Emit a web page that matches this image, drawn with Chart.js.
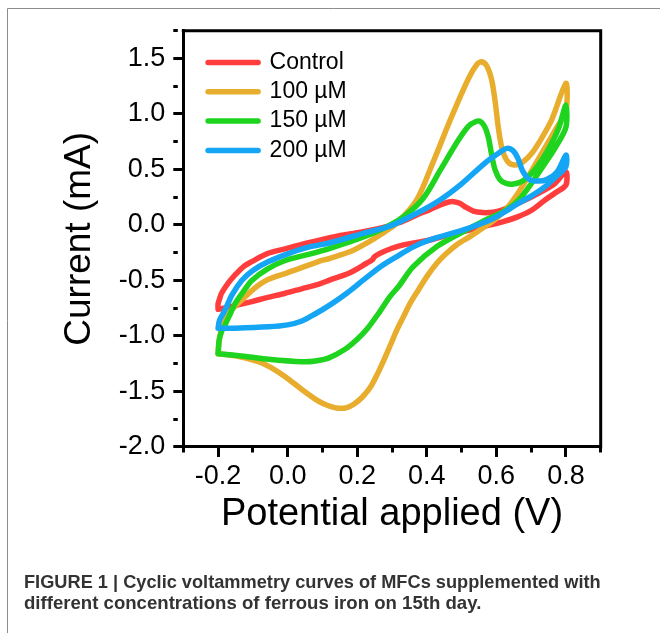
<!DOCTYPE html>
<html>
<head>
<meta charset="utf-8">
<script src="https://cdn.jsdelivr.net/npm/chart.js@4.4.1/dist/chart.umd.min.js"></script>
<style>
  html, body { margin: 0; padding: 0; background: #fff; }
  #wrap { position: relative; width: 660px; height: 633px; }
</style>
</head>
<body>
<div id="wrap"><canvas id="c" width="660" height="633"></canvas></div>
<script>
// ---------- data ----------
const seriesLabels = ['Control', '100 µM', '150 µM', '200 µM'];
const seriesColors = ['#FF3D3D', '#E8AD2D', '#1ED41E', '#14A5F5'];

// Control: forward scan then reverse scan (closed loop)
const controlV = [-0.2, -0.2, -0.195, -0.19, -0.17, -0.151, -0.125, -0.103, -0.06, -0.007, 0.06, 0.136, 0.2, 0.266, 0.32, 0.371, 0.41, 0.438, 0.46, 0.478, 0.495, 0.512, 0.534, 0.56, 0.59, 0.616, 0.663, 0.721, 0.769, 0.8,
                  0.8, 0.77, 0.74, 0.7, 0.663, 0.62, 0.582, 0.505, 0.45, 0.409, 0.333, 0.3, 0.266, 0.25, 0.243, 0.227, 0.179, 0.122, 0.088, 0.04, -0.007, -0.06, -0.103, -0.17, -0.2];
const controlI = [-0.76, -0.71, -0.66, -0.615, -0.52, -0.45, -0.37, -0.33, -0.26, -0.215, -0.16, -0.105, -0.07, -0.03, 0.02, 0.09, 0.14, 0.18, 0.205, 0.21, 0.195, 0.16, 0.125, 0.112, 0.115, 0.135, 0.195, 0.285, 0.376, 0.48,
                  0.36, 0.29, 0.225, 0.13, 0.075, 0.03, 0.0, -0.06, -0.1, -0.135, -0.18, -0.21, -0.255, -0.285, -0.315, -0.345, -0.43, -0.495, -0.535, -0.575, -0.615, -0.655, -0.69, -0.74, -0.76];

// 100 µM
const fe100V = [-0.2, -0.196, -0.186, -0.165, -0.132, -0.095, -0.055, 0.0, 0.088, 0.122, 0.18, 0.237, 0.28, 0.314, 0.371, 0.42, 0.472, 0.52, 0.545, 0.558, 0.573, 0.587, 0.597, 0.606, 0.617, 0.633, 0.654, 0.677, 0.702, 0.73, 0.759, 0.8,
                0.8, 0.77, 0.735, 0.7, 0.665, 0.63, 0.6, 0.56, 0.524, 0.49, 0.457, 0.43, 0.4, 0.375, 0.352, 0.333, 0.314, 0.297, 0.279, 0.26, 0.24, 0.215, 0.19, 0.17, 0.155, 0.135, 0.11, 0.085, 0.04, -0.007, -0.05, -0.084, -0.14, -0.2];
const fe100I = [-1.16, -1.02, -0.9, -0.78, -0.676, -0.57, -0.49, -0.43, -0.33, -0.3, -0.24, -0.145, -0.06, 0.015, 0.225, 0.58, 0.98, 1.32, 1.45, 1.47, 1.43, 1.3, 1.1, 0.87, 0.68, 0.57, 0.54, 0.57, 0.646, 0.78, 0.946, 1.276,
                1.03, 0.86, 0.67, 0.48, 0.3, 0.15, 0.06, -0.03, -0.105, -0.17, -0.255, -0.34, -0.465, -0.59, -0.706, -0.826, -0.946, -1.07, -1.2, -1.33, -1.45, -1.55, -1.615, -1.645, -1.652, -1.645, -1.62, -1.58, -1.48, -1.367, -1.28, -1.231, -1.185, -1.16];

// 150 µM
const fe150V = [-0.2, -0.197, -0.19, -0.18, -0.165, -0.151, -0.125, -0.103, -0.06, -0.007, 0.06, 0.122, 0.19, 0.266, 0.333, 0.39, 0.44, 0.49, 0.52, 0.54, 0.553, 0.566, 0.577, 0.586, 0.596, 0.61, 0.628, 0.649, 0.675, 0.702, 0.73, 0.759, 0.78, 0.8,
                0.8, 0.77, 0.74, 0.7, 0.663, 0.62, 0.572, 0.505, 0.429, 0.361, 0.32, 0.294, 0.265, 0.23, 0.2, 0.165, 0.117, 0.08, 0.041, -0.055, -0.12, -0.2];
const fe150I = [-1.16, -1.04, -0.96, -0.9, -0.8, -0.706, -0.59, -0.5, -0.4, -0.32, -0.265, -0.21, -0.14, -0.045, 0.075, 0.24, 0.5, 0.76, 0.89, 0.93, 0.935, 0.89, 0.79, 0.64, 0.5, 0.41, 0.375, 0.369, 0.395, 0.466, 0.58, 0.736, 0.88, 1.08,
                0.88, 0.7, 0.556, 0.37, 0.22, 0.12, 0.05, -0.06, -0.195, -0.376, -0.55, -0.646, -0.78, -0.93, -1.03, -1.12, -1.2, -1.225, -1.232, -1.21, -1.185, -1.16];

// 200 µM
const fe200V = [-0.2, -0.196, -0.18, -0.16, -0.132, -0.1, -0.055, 0.0, 0.06, 0.122, 0.218, 0.294, 0.371, 0.438, 0.5, 0.568, 0.606, 0.63, 0.648, 0.662, 0.675, 0.695, 0.72, 0.745, 0.775, 0.8,
                0.8, 0.77, 0.74, 0.7, 0.663, 0.62, 0.582, 0.505, 0.409, 0.36, 0.314, 0.27, 0.218, 0.17, 0.122, 0.08, 0.041, 0.0, -0.055, -0.151, -0.2];
const fe200I = [-0.93, -0.86, -0.766, -0.63, -0.5, -0.41, -0.33, -0.26, -0.2, -0.16, -0.075, -0.01, 0.105, 0.225, 0.37, 0.56, 0.646, 0.69, 0.67, 0.6, 0.49, 0.41, 0.395, 0.41, 0.48, 0.63,
                0.525, 0.43, 0.345, 0.26, 0.195, 0.11, 0.045, -0.045, -0.135, -0.2, -0.285, -0.37, -0.495, -0.615, -0.72, -0.8, -0.865, -0.9, -0.918, -0.93, -0.93];

const seriesV = [controlV, fe100V, fe150V, fe200V];
const seriesI = [controlI, fe100I, fe150I, fe200I];

const xTitle = 'Potential applied (V)';
const yTitle = 'Current (mA)';
const captionLines = [
  'FIGURE 1 | Cyclic voltammetry curves of MFCs supplemented with',
  'different concentrations of ferrous iron on 15th day.'
];

// ---------- chart ----------
const FONT = '"Liberation Sans", Arial, Helvetica, sans-serif';
Chart.defaults.color = '#000';
Chart.defaults.font.family = FONT;

const isMajorX = v => Math.abs(Math.round(v * 10)) % 2 === 0;
const isMajorY = v => Math.abs(Math.round(v * 4)) % 2 === 0;

const datasets = seriesV.map((vs, k) => ({
  label: seriesLabels[k],
  data: vs.map((x, j) => ({ x: x, y: seriesI[k][j] })),
  borderColor: seriesColors[k],
  backgroundColor: seriesColors[k],
  borderWidth: 5.5,
  pointRadius: 0,
  pointHoverRadius: 0,
  showLine: true,
  fill: false,
  tension: 0.3,
  borderCapStyle: 'round',
  borderJoinStyle: 'round',
  order: seriesV.length - 1 - k
}));

const framePlugin = {
  id: 'frame',
  beforeDraw(chart) {
    const { ctx, chartArea: a } = chart;
    ctx.save();
    ctx.fillStyle = '#fff';
    ctx.fillRect(0, 0, chart.width, chart.height);
    ctx.strokeStyle = '#8c8c8c';
    ctx.lineWidth = 1;
    ctx.beginPath();
    ctx.moveTo(7.5, chart.height);
    ctx.lineTo(7.5, 8.5);
    ctx.lineTo(chart.width, 8.5);
    ctx.stroke();
    ctx.restore();
    const lg = chart.legend;
    if (lg) {
      lg.left = a.left + 18.5;
      lg.top = a.top + 14;
      lg.right = a.right;
      lg.bottom = a.bottom;
    }
  },
  afterDraw(chart) {
    const { ctx, chartArea: a } = chart;
    ctx.save();
    ctx.strokeStyle = '#000';
    ctx.lineWidth = 3;
    ctx.lineCap = 'square';
    ctx.beginPath();
    ctx.moveTo(a.left, a.top);
    ctx.lineTo(a.right, a.top);
    ctx.lineTo(a.right, a.bottom);
    ctx.stroke();
    ctx.restore();
  }
};

new Chart(document.getElementById('c'), {
  type: 'scatter',
  data: { datasets },
  options: {
    responsive: false,
    animation: false,
    devicePixelRatio: 1,
    layout: { padding: { left: 24, top: 30.7, right: 59.3, bottom: 18.5 } },
    scales: {
      x: {
        type: 'linear',
        min: -0.3, max: 0.9,
        afterFit: s => { s.height = 95; },
        ticks: {
          stepSize: 0.1, autoSkip: false, maxRotation: 0, minRotation: 0, padding: 3,
          color: '#000', font: { family: FONT, size: 27 },
          callback: v => isMajorX(v) ? v.toFixed(1) : ''
        },
        grid: {
          display: true, drawOnChartArea: false, drawTicks: true,
          tickLength: 10, tickWidth: 3, tickColor: '#000',
          tickBorderDash: c => (c.tick && isMajorX(c.tick.value)) ? [] : [4.5, 40]
        },
        border: { display: true, color: '#000', width: 3 },
        title: { display: true, text: xTitle, color: '#000', font: { family: FONT, size: 38 }, padding: { top: 0, bottom: 4.7 } }
      },
      y: {
        type: 'linear',
        min: -2.0, max: 1.75,
        afterFit: s => { s.width = 159.3; },
        ticks: {
          stepSize: 0.25, autoSkip: false, padding: 8,
          color: '#000', font: { family: FONT, size: 27 },
          callback: v => isMajorY(v) ? v.toFixed(1) : ''
        },
        grid: {
          display: true, drawOnChartArea: false, drawTicks: true,
          tickLength: 10, tickWidth: 3, tickColor: '#000',
          tickBorderDash: c => (c.tick && isMajorY(c.tick.value)) ? [] : [4.5, 40]
        },
        border: { display: true, color: '#000', width: 3 },
        title: { display: true, text: yTitle, color: '#000', font: { family: FONT, size: 37 }, padding: { top: 33.5, bottom: 0 } }
      }
    },
    plugins: {
      tooltip: { enabled: false },
      legend: {
        display: true,
        position: 'chartArea',
        align: 'start',
        labels: {
          usePointStyle: true,
          pointStyle: 'line',
          pointStyleWidth: 50,
          padding: 6.3,
          color: '#000',
          font: { family: FONT, size: 23 },
          sort: (a, b) => a.datasetIndex - b.datasetIndex,
          generateLabels(chart) {
            const items = Chart.defaults.plugins.legend.labels.generateLabels(chart);
            items.forEach(it => {
              const ds = chart.data.datasets[it.datasetIndex];
              it.lineCap = 'round';
              it.lineWidth = 5.5;
              it.strokeStyle = ds.borderColor;
              it.fillStyle = ds.borderColor;
            });
            return items;
          }
        }
      },
      title: {
        display: true,
        position: 'bottom',
        align: 'start',
        fullSize: true,
        text: captionLines,
        color: '#333',
        font: { family: FONT, size: 18.6, weight: 'bold', lineHeight: 1.13 },
        padding: { top: 30.5, bottom: 0 }
      }
    }
  },
  plugins: [framePlugin]
});
</script>
</body>
</html>
